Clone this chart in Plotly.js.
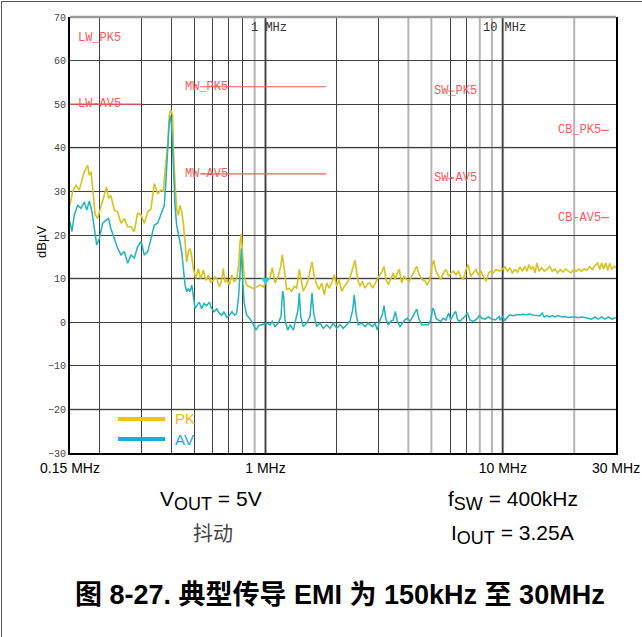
<!DOCTYPE html>
<html>
<head>
<meta charset="utf-8">
<script src="https://cdn.plot.ly/plotly-3.0.1.min.js"></script>
<style>
  html, body { margin: 0; padding: 0; background: #fff; }
  #wrap { position: relative; width: 642px; height: 637px; }
  #chart { width: 642px; height: 637px; }
  #frame { position: absolute; left: 1px; top: 1px; width: 641px; height: 636px;
           border-left: 1.5px solid #555; border-top: 1.5px solid #555; pointer-events: none; box-sizing: border-box; }
</style>
</head>
<body>
<div id="wrap"><div id="chart"></div><div id="frame"></div></div>
<script>
// ---------- DATA ----------
// Peak detector (PK), frequency in MHz and level in dBµV
const pkFreq = [0.150,0.1539,0.159,0.1642,0.1697,0.1724,0.178,0.181,0.184,0.187,0.1917,0.196,0.2027,0.2093,0.214,0.218,0.223,0.2306,0.238,0.246,0.254,0.2626,0.271,0.280,0.289,0.299,0.3085,0.319,0.329,0.340,0.351,0.363,0.371,0.378,0.387,0.393,0.3985,0.406,
  0.409,0.4155,0.4224,0.429,0.436,0.4435,0.450,0.458,0.4655,0.4727,0.4806,0.4886,0.496,0.509,0.521,0.533,0.547,0.561,0.574,0.5875,0.6026,0.6125,0.623,0.639,0.654,0.664,0.675,0.690,0.704,0.720,0.7365,0.756,0.771,0.781,0.791,0.801,0.812,0.833,0.860,0.888,0.918,0.948,0.979,
  1.011,1.045,1.068,1.097,1.132,1.159,1.177,1.200,1.228,1.256,1.290,1.322,1.353,1.388,1.411,1.443,1.477,1.515,1.545,1.571,1.605,1.643,1.680,1.725,1.770,1.811,1.857,1.901,1.950,1.995,2.040,2.094,2.148,2.205,2.270,2.321,2.383,2.447,2.502,2.558,2.626,2.712,
  2.756,2.829,2.894,2.958,3.037,3.105,3.157,3.219,3.293,3.370,3.456,3.514,3.571,3.663,3.749,3.833,3.935,4.036,4.131,4.236,4.337,4.448,4.566,4.700,4.806,4.934,5.031,5.115,5.231,5.369,5.490,5.615,5.763,5.916,6.050,6.186,6.349,6.493,6.646,6.816,6.998,7.155,7.324,7.510,7.709,7.884,8.093,8.275,8.495,8.721,8.918,9.119,9.360,9.665,
  9.953,10.21,10.48,10.72,10.96,11.26,11.55,11.82,12.08,12.40,12.64,12.89,13.14,13.40,13.66,13.93,14.21,14.58,14.96,15.35,15.76,16.17,16.60,17.04,17.47,17.94,18.41,18.88,19.38,19.90,20.40,20.94,21.50,22.05,22.63,23.23,23.83,24.46,25.11,25.61,26.10,26.62,27.13,27.67,28.21,28.76,29.5,30.0];
const pkLevel = [26.8,30.0,31.4,30.3,33.3,34.5,36.0,33.7,34.5,30.6,24.6,23.8,26.8,29.1,31.0,28.4,29.1,25.7,25.3,22.7,23.8,21.9,21.9,20.8,25.0,24.6,22.7,25.3,26.0,31.8,29.5,30.3,30.0,35.2,40.5,47.4,48.7,47.5,
  39.8,32.1,26.0,24.5,26.8,25.3,23.0,18.4,13.8,16.1,16.9,15.3,12.3,10.0,12.3,10.0,11.9,9.6,10.8,9.2,9.6,10.4,10.0,8.1,9.6,12.3,9.2,9.6,8.5,10.8,9.2,10.0,13.1,18.4,20.3,15.3,10.8,8.5,8.1,7.7,8.1,8.5,8.1,
  9.4,10.2,12.5,9.0,10.5,12.8,15.5,12.1,7.5,7.8,7.1,8.2,7.8,12.1,9.8,7.1,8.2,9.8,12.1,13.8,10.5,8.6,7.5,9.0,6.3,9.0,7.8,9.0,10.9,8.2,9.8,7.1,8.2,9.0,10.2,12.1,14.2,9.8,8.2,9.4,7.8,9.0,
  9.0,7.8,9.0,9.8,10.9,11.7,12.8,9.8,8.6,9.8,11.3,9.8,10.9,12.1,9.0,10.5,9.8,9.4,10.5,11.7,12.8,10.9,9.8,9.4,8.6,9.8,12.8,14.2,11.7,10.5,9.8,11.3,12.1,10.5,11.3,11.7,10.9,11.7,10.5,9.8,12.1,13.2,10.5,11.3,12.1,10.9,11.7,10.5,9.4,11.3,11.7,11.3,12.1,11.7,
  12.1,12.7,11.7,12.5,11.3,12.1,11.5,12.7,11.7,12.8,11.7,13.2,12.1,12.8,11.3,13.6,11.7,12.5,11.7,12.1,12.8,11.7,12.2,11.3,12.1,11.5,12.2,11.7,11.3,12.1,11.7,12.2,11.7,12.2,11.9,12.7,12.1,13.0,13.6,12.1,13.6,12.2,13.6,11.9,13.5,12.2,12.8,12.5];

// Average detector (AV)
const avFreq = [0.150,0.1529,0.1564,0.1616,0.1669,0.1724,0.1764,0.181,0.1857,0.1899,0.1944,0.1994,0.206,0.2127,0.218,0.223,0.2306,0.238,0.246,0.254,0.2626,0.271,0.280,0.289,0.299,0.3085,0.319,0.329,0.340,0.351,0.363,0.3746,0.381,0.387,0.393,0.3985,
  0.404,0.409,0.4155,0.4224,0.429,0.436,0.4435,0.450,0.458,0.4655,0.4727,0.4806,0.4886,0.496,0.5046,0.513,0.526,0.538,0.5506,0.565,0.580,0.593,0.607,0.623,0.639,0.654,0.6685,0.686,0.704,0.722,0.742,0.756,0.771,0.783,0.791,0.798,0.812,0.833,0.860,0.888,0.912,0.936,0.964,
  1.011,1.045,1.068,1.097,1.132,1.162,1.181,1.193,1.208,1.240,1.272,1.310,1.344,1.371,1.388,1.407,1.443,1.491,1.540,1.571,1.596,1.643,1.697,1.752,1.811,1.870,1.931,1.995,2.061,2.127,2.199,2.270,2.331,2.367,2.406,2.460,2.544,2.626,2.712,
  2.756,2.829,2.894,2.958,3.037,3.105,3.157,3.210,3.293,3.370,3.456,3.524,3.593,3.688,3.771,3.860,3.958,4.064,4.172,4.266,4.337,4.422,4.552,4.700,4.853,4.968,5.066,5.130,5.231,5.349,5.475,5.615,5.763,5.916,6.032,6.186,6.332,6.455,6.601,6.777,6.930,7.086,7.273,7.510,7.763,7.960,8.172,8.415,8.689,8.981,9.270,9.665,
  9.733,9.953,10.21,10.48,10.72,11.07,11.44,11.82,12.20,12.61,13.02,13.44,13.89,14.34,14.67,14.96,15.35,15.76,16.17,16.60,17.13,17.71,18.29,18.88,19.51,20.15,20.80,21.50,22.20,22.92,23.68,24.46,25.26,26.10,26.95,27.83,28.76,29.5,30.0];
const avLevel = [23.0,20.8,24.6,26.8,26.1,27.6,25.7,27.8,25.3,21.5,17.7,19.2,22.7,23.4,23.8,21.5,19.2,17.0,15.4,16.2,13.5,15.4,14.7,17.3,18.5,15.4,16.2,19.2,22.3,22.7,24.6,26.8,32.9,39.8,45.9,47.4,
  43.0,36.0,26.8,22.2,19.9,18.4,16.1,13.1,8.5,7.0,7.7,7.0,8.5,6.2,3.1,3.8,4.6,3.1,4.3,3.8,4.6,3.1,2.4,3.1,2.0,1.6,2.4,1.1,1.6,2.4,1.6,2.0,6.2,12.3,16.9,11.5,4.6,1.6,0.8,-0.5,-1.8,-0.8,-0.5,
  -0.2,-0.6,0.2,-1.0,-0.2,1.3,7.1,5.9,0.5,-1.8,-0.6,-1.8,0.5,2.8,6.7,1.3,-1.0,-0.2,1.3,6.7,2.1,-1.0,-0.2,-1.4,-0.6,-1.4,-0.2,-1.4,-0.6,-1.4,-0.6,0.2,2.8,6.3,2.1,-0.6,-0.2,-1.0,-0.2,
  -0.6,-1.0,-0.2,-1.8,0.5,1.7,3.8,0.9,-0.6,0.2,0.5,2.5,0.2,-1.0,-0.2,0.5,0.9,0.2,1.3,2.1,3.0,0.9,-0.6,-0.6,-0.6,0.5,3.2,2.8,0.9,0.5,0.2,0.9,0.5,2.1,0.5,1.7,2.5,0.5,0.2,0.9,1.3,2.2,0.5,0.2,0.7,1.5,0.9,0.7,1.2,0.7,0.5,1.3,
  0.4,1.3,0.4,1.2,1.7,1.5,1.7,1.7,1.8,1.7,1.9,1.6,1.6,1.5,2.1,1.2,1.5,1.2,1.5,1.2,1.5,1.2,1.3,1.1,1.2,1.2,1.0,1.2,1.1,0.9,0.7,1.2,0.7,1.2,0.7,1.2,0.7,0.9,1.0];

// CISPR 25 class 5 limit lines
const limitNames = ["LW_PK5","LW-AV5","MW_PK5","MW-AV5","SW_PK5","SW-AV5","CB_PK5","CB-AV5"];
const limitStart = [0.15,0.15,0.53,0.53,5.9,5.9,26,26];
const limitEnd   = [0.3,0.3,1.8,1.8,6.2,6.2,28,28];
const limitLevel = [70,50,54,34,53,33,44,24];

// Axis ticks
const yTicks = [-30,-20,-10,0,10,20,30,40,50,60,70];
const yGrayTicks = [-20,10,40];
const xLabelTicks = [0.15,1,10,30];
const xTickText  = ["0.15 MHz","1 MHz","10 MHz","30 MHz"];
const xDarkTicks = [0.2,0.3,0.4,0.5,0.6,0.7,0.8,2,3,6,7];
const xGrayTicks = [0.9,4,5,8,9,20];
const decadeTicks = [1,10];
const decadeText = ["1 MHz","10 MHz"];
const markerFreq = [1.0];
const markerLevel = [9.6];

// ---------- STYLE ----------
const mono = "Liberation Mono, DejaVu Sans Mono, monospace";
const sans = "Liberation Sans, Arial, sans-serif";
const cjk  = "Liberation Sans, Arial, Noto Sans CJK SC, sans-serif";
const red = "#ff5a5a";
const gridDark = "#404040";
const gridGray = "#b4b4b4";

// limit line trace (segments separated by null)
const limX = [], limY = [];
limitNames.forEach((n, i) => {
  if (limitLevel[i] >= 70) return;
  limX.push(limitStart[i], limitEnd[i], null);
  limY.push(limitLevel[i], limitLevel[i], null);
});

const traces = [
  {x: limX, y: limY, mode: "lines", line: {color: red, width: 1.2}, hoverinfo: "skip", showlegend: false},
  {x: pkFreq, y: pkLevel, mode: "lines", line: {color: "#d8c21e", width: 1.6}, name: "PK", showlegend: false},
  {x: avFreq, y: avLevel, mode: "lines", line: {color: "#20b4bd", width: 1.5}, name: "AV", showlegend: false},
  {x: markerFreq, y: markerLevel, mode: "markers", marker: {symbol: "triangle-down", size: 8, color: "#22d4e4"}, showlegend: false, hoverinfo: "skip"}
];

const shapes = [];
yGrayTicks.forEach(v => shapes.push({type: "line", xref: "paper", x0: 0, x1: 1, yref: "y", y0: v, y1: v,
  line: {color: gridGray, width: 2}, layer: "below"}));
xGrayTicks.forEach(v => shapes.push({type: "line", xref: "x", x0: v, x1: v, yref: "paper", y0: 0, y1: 1,
  line: {color: gridGray, width: 2}, layer: "below"}));
decadeTicks.forEach(v => shapes.push({type: "line", xref: "x", x0: v, x1: v, yref: "paper", y0: 0, y1: 1,
  line: {color: "#8a8a8a", width: 2.5}, layer: "below"}));
// top border (grey)
shapes.push({type: "line", xref: "paper", x0: 0, x1: 1, yref: "paper", y0: 1, y1: 1, line: {color: "#9a9a9a", width: 2.5}});
// legend samples
shapes.push({type: "line", xref: "paper", yref: "paper", x0: 0.088, x1: 0.174, y0: 0.078, y1: 0.078, line: {color: "#f7c10e", width: 4}});
shapes.push({type: "line", xref: "paper", yref: "paper", x0: 0.088, x1: 0.174, y0: 0.032, y1: 0.032, line: {color: "#14aee6", width: 4}});

const labelShiftX = [6, 6, -17, -17, -16, -16, -45, -45];
const labelShiftY = [-21, 0, 0, 0, 0, 0, 0, 0];
const annotations = [];
limitNames.forEach((n, i) => {
  annotations.push({x: Math.log10(limitStart[i]), y: limitLevel[i], xref: "x", yref: "y", text: n, showarrow: false,
    xanchor: "left", yanchor: "middle", xshift: labelShiftX[i], yshift: labelShiftY[i],
    font: {family: mono, size: 12, color: red}});
});
decadeTicks.forEach((v, i) => {
  annotations.push({x: Math.log10(v), y: 1, xref: "x", yref: "paper", text: decadeText[i], showarrow: false,
    xanchor: "left", yanchor: "top", xshift: i === 0 ? -17 : -22, yshift: -2,
    font: {family: mono, size: 12, color: "#333"}});
});
// legend texts
annotations.push({x: 0.1886, y: 0.078, xref: "paper", yref: "paper", text: "PK", showarrow: false, xanchor: "left", yanchor: "middle",
  font: {family: sans, size: 15, color: "#f5bd00"}});
annotations.push({x: 0.1886, y: 0.032, xref: "paper", yref: "paper", text: "AV", showarrow: false, xanchor: "left", yanchor: "middle",
  font: {family: sans, size: 15, color: "#12ace6"}});
// y axis title
annotations.push({x: -0.0513, y: 0.484, xref: "paper", yref: "paper", text: "dBµV", textangle: -90, showarrow: false,
  xanchor: "center", yanchor: "middle", font: {family: sans, size: 13, color: "#000"}});
// condition texts
const sub = s => '<sub><span style="font-size:18px">' + s + '</span></sub>';
annotations.push({x: 0.258, y: -0.110, xref: "paper", yref: "paper", text: "V" + sub("OUT") + " = 5V", showarrow: false,
  xanchor: "center", yanchor: "middle", font: {family: sans, size: 21, color: "#000"}});
annotations.push({x: 0.811, y: -0.110, xref: "paper", yref: "paper", text: "f" + sub("SW") + " = 400kHz", showarrow: false,
  xanchor: "center", yanchor: "middle", font: {family: sans, size: 21, color: "#000"}});
annotations.push({x: 0.262, y: -0.183, xref: "paper", yref: "paper", text: "抖动", showarrow: false,
  xanchor: "center", yanchor: "middle", font: {family: "Noto Sans CJK SC, sans-serif", size: 20, color: "#444"}});
annotations.push({x: 0.810, y: -0.186, xref: "paper", yref: "paper", text: "I" + sub("OUT") + " = 3.25A", showarrow: false,
  xanchor: "center", yanchor: "middle", font: {family: sans, size: 21, color: "#000"}});
annotations.push({x: 0.4945, y: -0.326, xref: "paper", yref: "paper", text: "<b>图 8-27. 典型传导 EMI 为 150kHz 至 30MHz</b>", showarrow: false,
  xanchor: "center", yanchor: "middle", font: {family: cjk, size: 27, color: "#000"}});

const layout = {
  width: 642, height: 637,
  margin: {l: 70, r: 26, t: 17, b: 184},
  paper_bgcolor: "#fff", plot_bgcolor: "#fff",
  showlegend: false,
  xaxis: {
    type: "log", range: [Math.log10(0.15), Math.log10(30)],
    tickvals: xLabelTicks, ticktext: xTickText,
    showgrid: true, gridcolor: gridDark, gridwidth: 1,
    ticks: "outside", ticklen: 1, tickcolor: "rgba(0,0,0,0)",
    tickfont: {family: sans, size: 14, color: "#000"},
    showline: true, linecolor: "#000", linewidth: 2, mirror: false,
    zeroline: false,
    minor: {tickvals: xDarkTicks, showgrid: true, gridcolor: gridDark, gridwidth: 1, ticks: ""}
  },
  yaxis: {
    range: [-30, 70], tickvals: yTicks,
    showgrid: true, gridcolor: gridDark, gridwidth: 1,
    ticks: "", tickfont: {family: mono, size: 10, color: "#444"},
    showline: true, linecolor: "#000", linewidth: 2, mirror: true,
    zeroline: false
  },
  shapes: shapes,
  annotations: annotations
};

Plotly.newPlot("chart", traces, layout, {displayModeBar: false, staticPlot: true});
</script>
</body>
</html>
